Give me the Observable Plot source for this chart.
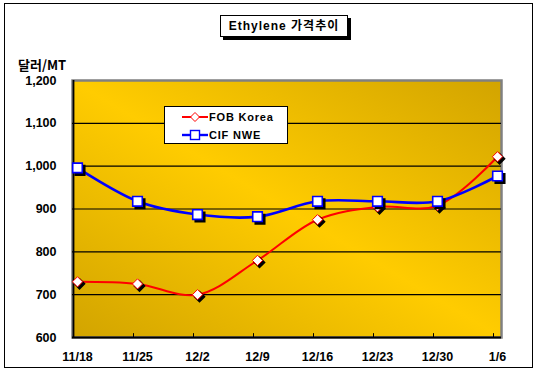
<!DOCTYPE html>
<html>
<head>
<meta charset="utf-8">
<script src="https://cdn.jsdelivr.net/npm/d3@7"></script>
<script src="https://cdn.jsdelivr.net/npm/@observablehq/plot@0.6"></script>
<style>
  body { margin: 0; background: white; }
  #wrap { position: relative; width: 537px; height: 371px; font-family: "Liberation Sans", Arial, "Noto Sans CJK KR", sans-serif; }
  #wrap svg { position: absolute; left: 0; top: 0; }
  .outer { position: absolute; left: 4px; top: 3px; width: 527px; height: 363px; border: 1.5px solid black; pointer-events: none; }
  .title { position: absolute; left: 220px; top: 15px; width: 126px; height: 20px; border: 1.5px solid black; background: white; box-shadow: 3px 3px 0 black; font-weight: bold; font-size: 12px; letter-spacing: 1px; line-height: 20px; text-align: center; font-family: "Liberation Sans", Arial, "Noto Sans CJK KR", sans-serif; }
  .ylab { position: absolute; left: 18px; top: 58px; font-weight: bold; font-size: 13px; font-family: "Noto Sans CJK KR", "Liberation Sans", sans-serif; line-height: 13px; height: 13px; }
  .legend { position: absolute; left: 164px; top: 106px; width: 122px; height: 36px; border: 1px solid black; background: white; font-weight: bold; font-size: 11px; letter-spacing: 0.8px; }
  .legend .row { position: absolute; left: 17px; height: 14px; line-height: 14px; display: flex; align-items: center; }
  .legend svg { position: static !important; margin-right: 1px; }
</style>
</head>
<body>
<div id="wrap"></div>
<script>
const dates = ["11/18", "11/25", "12/2", "12/9", "12/16", "12/23", "12/30", "1/6"];
const fobKorea = [730, 725, 700, 780, 875, 905, 908, 1022];
const cifNWE = [996, 918, 887, 882, 918, 918, 918, 977];
const yTicks = [600, 700, 800, 900, 1000, 1100, 1200];
const gridValues = [700, 800, 900, 1000, 1100];
const seriesNames = ["FOB Korea", "CIF NWE"];
const titleText = "Ethylene 가격추이";
const unitText = "달러/MT";

const fob = dates.map((d, i) => ({date: d, value: fobKorea[i]}));
const cif = dates.map((d, i) => ({date: d, value: cifNWE[i]}));

const chart = Plot.plot({
  width: 537,
  height: 371,
  marginLeft: 72,
  marginRight: 36,
  marginTop: 80,
  marginBottom: 34,
  style: {fontFamily: "'Liberation Sans', Arial, sans-serif", fontSize: "12.5px", fontWeight: "bold", color: "black", background: "transparent"},
  x: {type: "point", domain: dates, padding: 0.07, label: null, tickSize: 0, tickPadding: 15},
  y: {domain: [600, 1200], ticks: yTicks, tickFormat: d3.format(","), tickSize: 0, tickPadding: 16, label: null},
  marks: [
    Plot.frame({fill: "url(#bgGrad)", stroke: "#808080", strokeWidth: 2.5}),
    Plot.ruleY(gridValues, {stroke: "black", strokeWidth: 1.2}),
    Plot.ruleY([600], {stroke: "black", strokeWidth: 1.8}),
    Plot.ruleX([dates[0]], {dx: -4, stroke: "black", strokeWidth: 1.8}),
    Plot.ruleX(dates.slice(1), {y1: 600, y2: 609, dx: -4, stroke: "black", strokeWidth: 1}),
    Plot.line(fob, {x: "date", y: "value", stroke: "#FF0000", strokeWidth: 2, curve: "catmull-rom"}),
    Plot.dot(fob, {x: "date", y: "value", symbol: "diamond2", r: 4.6, fill: "black", stroke: "black", dx: 2, dy: 2}),
    Plot.dot(fob, {x: "date", y: "value", symbol: "diamond2", r: 4.6, fill: "white", stroke: "#FF0000", strokeWidth: 1}),
    Plot.line(cif, {x: "date", y: "value", stroke: "#0000FF", strokeWidth: 2.6, curve: "catmull-rom"}),
    Plot.dot(cif, {x: "date", y: "value", symbol: "square", r: 5.4, fill: "black", stroke: "black", dx: 2.5, dy: 2.5}),
    Plot.dot(cif, {x: "date", y: "value", symbol: "square", r: 5.4, fill: "white", stroke: "#0000FF", strokeWidth: 1.6})
  ]
});

// gradient definition for the plot area fill
const svgNS = "http://www.w3.org/2000/svg";
const defs = document.createElementNS(svgNS, "defs");
const grad = document.createElementNS(svgNS, "linearGradient");
grad.setAttribute("id", "bgGrad");
grad.setAttribute("x1", "0"); grad.setAttribute("y1", "1");
grad.setAttribute("x2", "1"); grad.setAttribute("y2", "0");
[["0", "#D2A400"], ["0.5", "#FFCC00"], ["1", "#D2A400"]].forEach(([o, c]) => {
  const s = document.createElementNS(svgNS, "stop");
  s.setAttribute("offset", o); s.setAttribute("stop-color", c);
  grad.appendChild(s);
});
defs.appendChild(grad);
chart.insertBefore(defs, chart.firstChild);

const wrap = document.getElementById("wrap");
wrap.appendChild(chart);

const outer = document.createElement("div");
outer.className = "outer";
wrap.appendChild(outer);

const title = document.createElement("div");
title.className = "title";
title.textContent = titleText;
wrap.appendChild(title);

const ylab = document.createElement("div");
ylab.className = "ylab";
ylab.textContent = unitText;
wrap.appendChild(ylab);

const legend = document.createElement("div");
legend.className = "legend";
const swatches = [
  `<svg width="26" height="12"><line x1="0" y1="6" x2="26" y2="6" stroke="#FF0000" stroke-width="2"/><path d="M13,1.5 L17.5,6 L13,10.5 L8.5,6 Z" fill="white" stroke="#FF0000" stroke-width="1"/></svg>`,
  `<svg width="26" height="12"><line x1="0" y1="6" x2="26" y2="6" stroke="#0000FF" stroke-width="2.4"/><rect x="8.5" y="1.5" width="9" height="9" fill="white" stroke="#0000FF" stroke-width="1.4"/></svg>`
];
seriesNames.forEach((name, i) => {
  const row = document.createElement("div");
  row.className = "row";
  row.style.top = (i === 0 ? 3 : 21) + "px";
  row.innerHTML = swatches[i] + `<span>${name}</span>`;
  legend.appendChild(row);
});
wrap.appendChild(legend);
</script>
</body>
</html>
